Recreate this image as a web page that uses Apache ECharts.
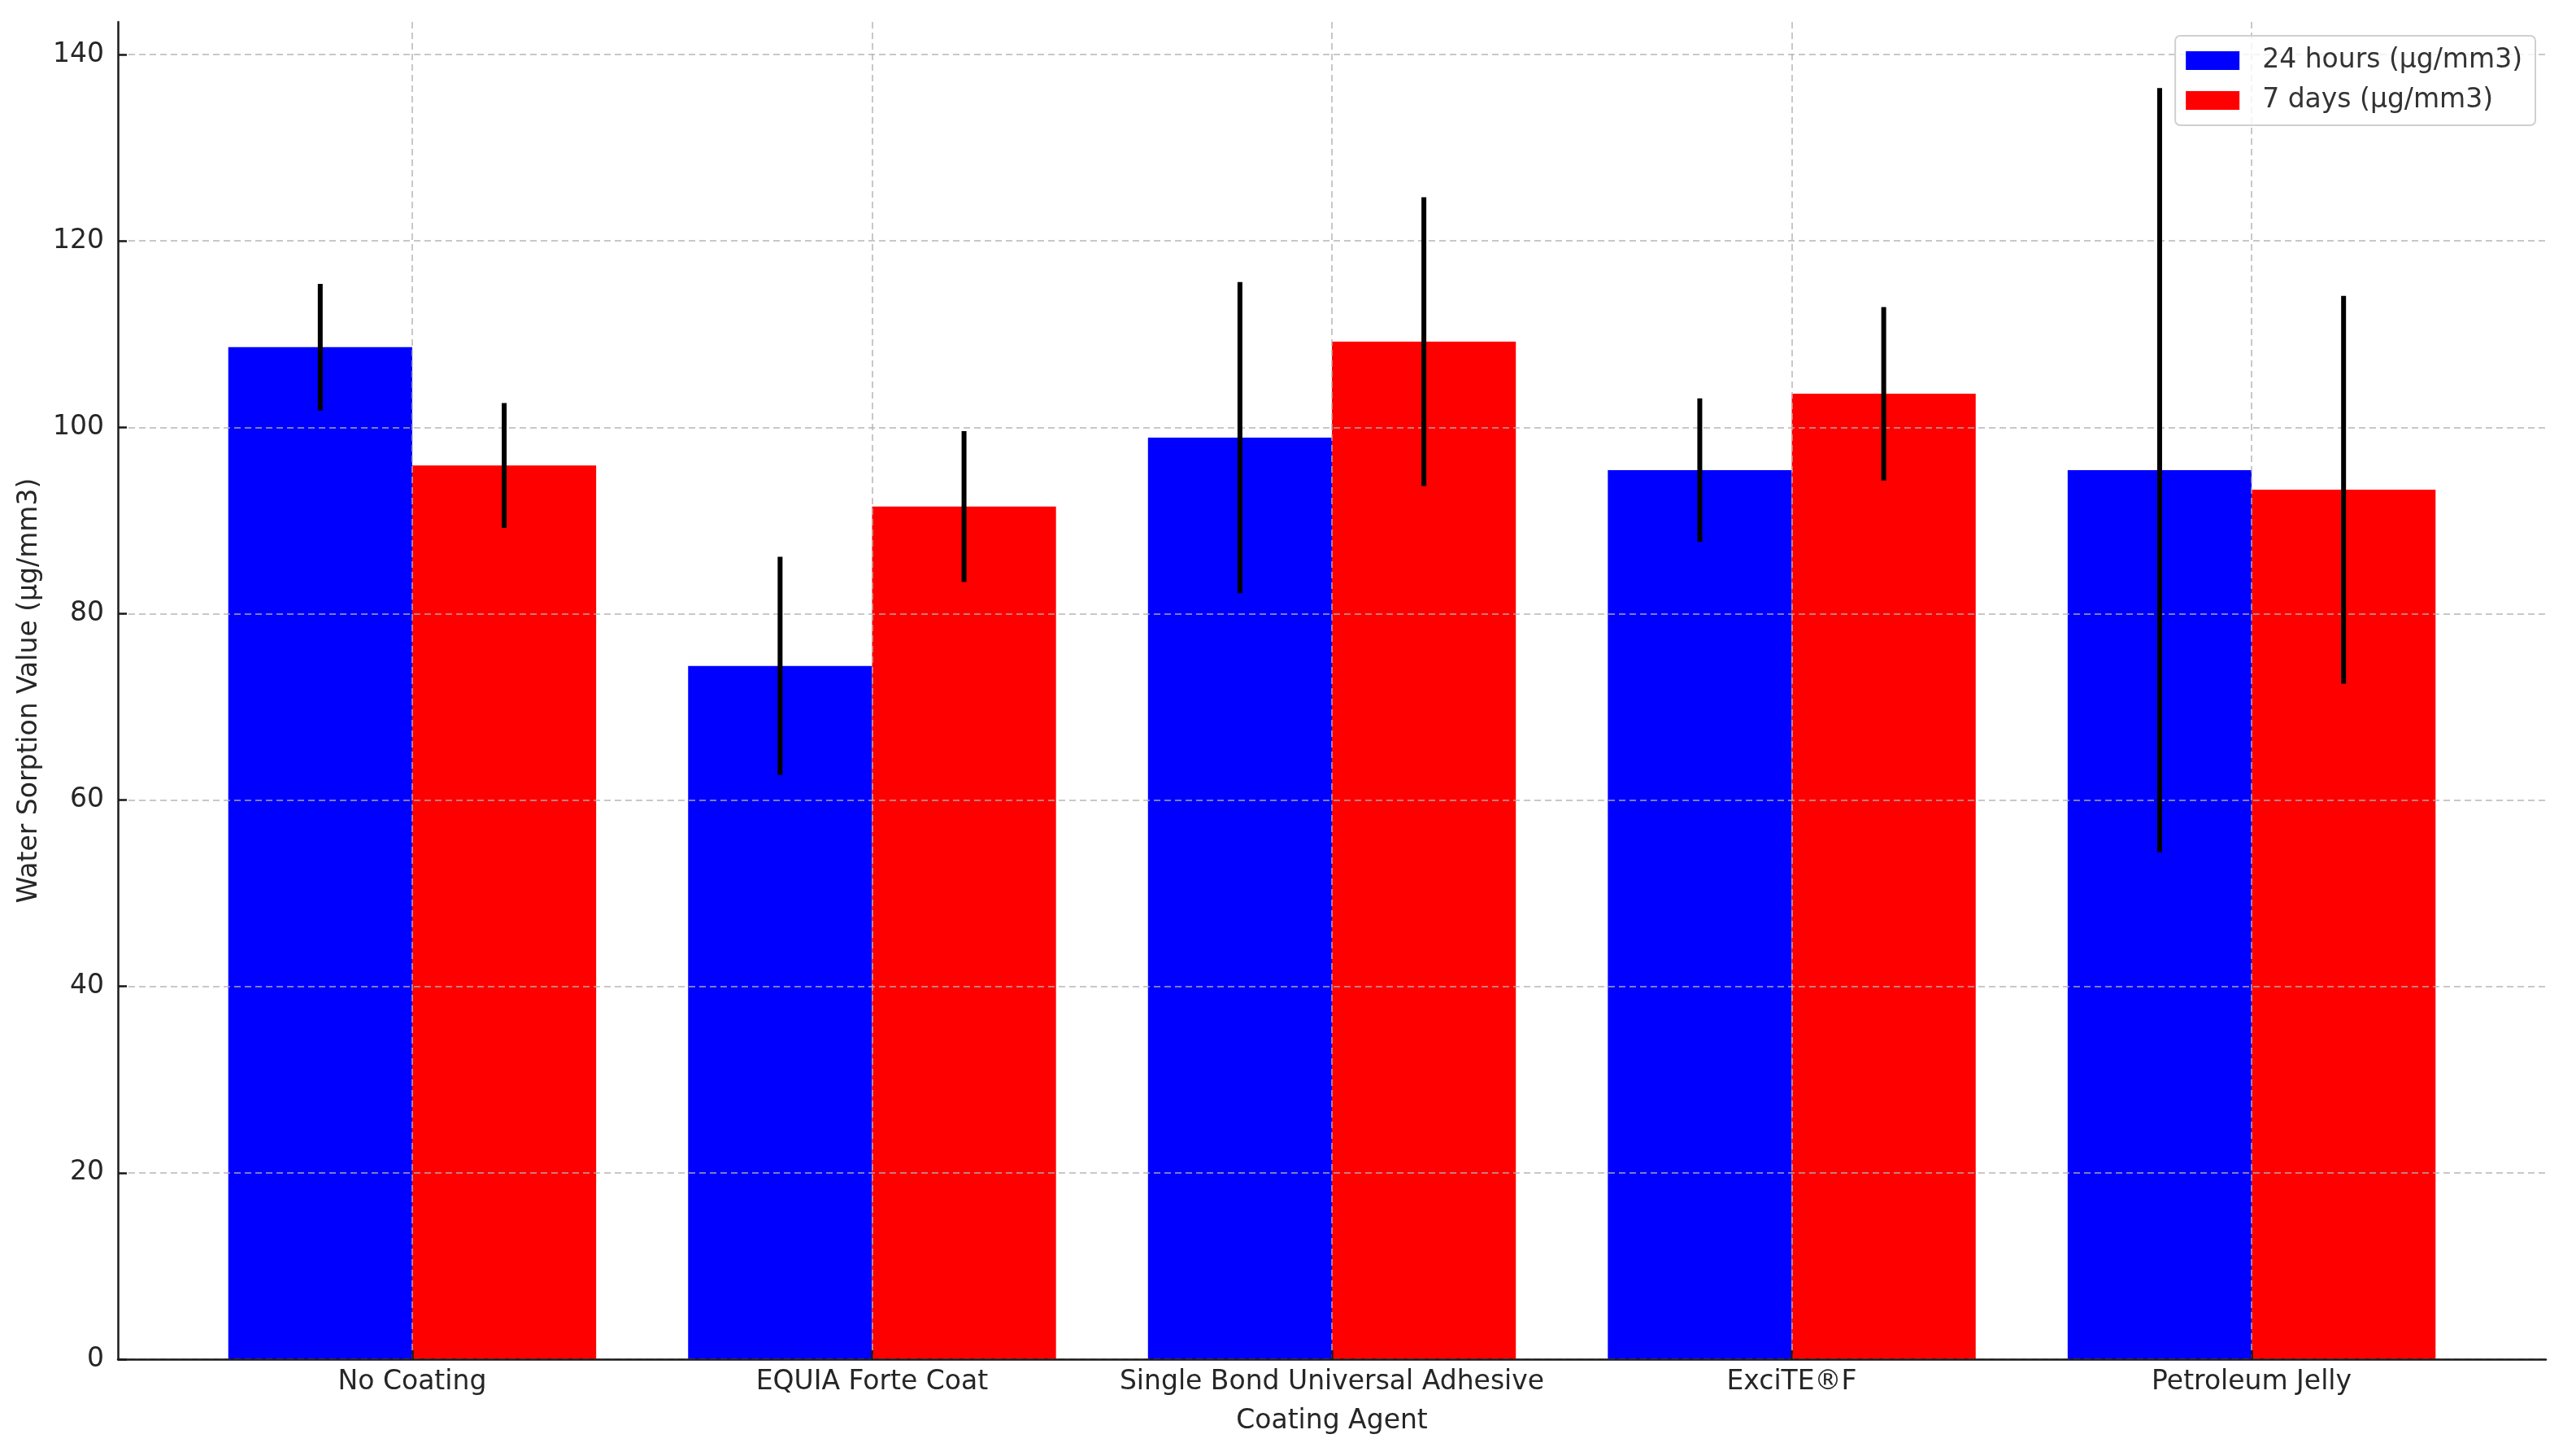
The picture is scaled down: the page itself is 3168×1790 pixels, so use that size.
<!DOCTYPE html>
<html>
<head>
<meta charset="utf-8">
<script src="https://cdn.jsdelivr.net/npm/echarts@6/dist/echarts.min.js"></script>
<style>html,body{margin:0;padding:0;background:#fff;}#c{width:3168px;height:1790px;}</style>
</head>
<body>
<div id="c"></div>
<script>
var categories = ['No Coating', 'EQUIA Forte Coat', 'Single Bond Universal Adhesive', 'ExciTE\u00aeF', 'Petroleum Jelly'];
var hours24 = [108.6, 74.4, 98.9, 95.4, 95.4];
var hours24Err = [6.8, 11.7, 16.7, 7.7, 41.0];
var days7 = [95.9, 91.5, 109.2, 103.6, 93.3];
var days7Err = [6.7, 8.1, 15.5, 9.3, 20.8];
var yTicks = [0, 20, 40, 60, 80, 100, 120, 140];
var xTicks = [0, 1, 2, 3, 4];
var seriesNames = ['24 hours (\u00b5g/mm3)', '7 days (\u00b5g/mm3)'];

var BAR_W = 0.4;
var FONT = 'DejaVu Sans';
var TXT = '#262626';

function barRender(side) {
  return function (params, api) {
    var x = api.value(0), y = api.value(1);
    var x0 = side < 0 ? x - BAR_W : x;
    var x1 = side < 0 ? x : x + BAR_W;
    var p0 = api.coord([x0, y]);
    var p1 = api.coord([x1, 0]);
    return {
      type: 'rect',
      shape: { x: p0[0], y: p0[1], width: p1[0] - p0[0], height: p1[1] - p0[1] },
      style: { fill: api.visual('color') }
    };
  };
}
function errRender(params, api) {
  var x = api.value(0), lo = api.value(1), hi = api.value(2);
  var a = api.coord([x, lo]);
  var b = api.coord([x, hi]);
  return {
    type: 'line',
    shape: { x1: a[0], y1: a[1], x2: b[0], y2: b[1] },
    style: { stroke: '#000', lineWidth: 6 }
  };
}

var barData24 = categories.map(function (c, i) { return [i, hours24[i]]; });
var barData7 = categories.map(function (c, i) { return [i, days7[i]]; });
var errData24 = categories.map(function (c, i) { return [i - BAR_W / 2, hours24[i] - hours24Err[i], hours24[i] + hours24Err[i]]; });
var errData7 = categories.map(function (c, i) { return [i + BAR_W / 2, days7[i] - days7Err[i], days7[i] + days7Err[i]]; });

var chart = echarts.init(document.getElementById('c'), null, { renderer: 'canvas' });
var gridLine = { show: true, lineStyle: { color: 'rgba(176,176,176,0.7)', width: 2, type: [8, 5] } };
chart.setOption({
  animation: false,
  backgroundColor: '#fff',
  textStyle: { fontFamily: FONT },
  grid: { left: 145, right: 37, top: 27, bottom: 119, containLabel: false },
  legend: {
    orient: 'vertical',
    right: 50,
    top: 44,
    data: seriesNames,
    icon: 'rect',
    itemWidth: 66,
    itemHeight: 23,
    itemGap: 16,
    textStyle: { fontFamily: FONT, fontSize: 33, color: '#333', lineHeight: 33, padding: [0, 0, 0, 23] },
    padding: [14, 16, 14, 13],
    backgroundColor: 'rgba(255,255,255,0.8)',
    borderColor: '#d0d0d0',
    borderWidth: 2,
    borderRadius: 6,
    z: 10
  },
  xAxis: {
    type: 'value',
    min: -0.64,
    max: 4.64,
    z: 3,
    name: 'Coating Agent',
    nameLocation: 'middle',
    nameGap: 60,
    nameTextStyle: { fontFamily: FONT, fontSize: 33, color: TXT },
    axisLine: { show: true, onZero: false, lineStyle: { color: '#1a1a1a', width: 2.5 } },
    axisTick: { show: true, inside: true, length: 11, customValues: xTicks, lineStyle: { color: '#1a1a1a', width: 2.5 } },
    axisLabel: {
      customValues: xTicks,
      margin: 12,
      fontFamily: FONT, fontSize: 33, color: TXT,
      formatter: function (v) { var k = Math.round(v); return Math.abs(v - k) < 1e-6 ? categories[k] : ''; }
    },
    splitLine: gridLine
  },
  yAxis: {
    type: 'value',
    min: 0,
    max: 143.5,
    z: 3,
    name: 'Water Sorption Value (\u00b5g/mm3)',
    nameLocation: 'middle',
    nameGap: 92,
    nameTextStyle: { fontFamily: FONT, fontSize: 33, color: TXT },
    axisLine: { show: true, onZero: false, lineStyle: { color: '#1a1a1a', width: 2.5 } },
    axisTick: { show: true, inside: true, length: 11, customValues: yTicks, lineStyle: { color: '#1a1a1a', width: 2.5 } },
    axisLabel: { customValues: yTicks, margin: 17, fontFamily: FONT, fontSize: 33, color: TXT },
    splitLine: gridLine
  },
  series: [
    { name: seriesNames[0], type: 'custom', renderItem: barRender(-1), data: barData24, itemStyle: { color: '#0000ff' }, encode: { x: 0, y: 1 }, z: 2 },
    { name: seriesNames[1], type: 'custom', renderItem: barRender(1), data: barData7, itemStyle: { color: '#ff0000' }, encode: { x: 0, y: 1 }, z: 2 },
    { name: 'err24', type: 'custom', renderItem: errRender, data: errData24, encode: { x: 0, y: [1, 2] }, z: 5 },
    { name: 'err7', type: 'custom', renderItem: errRender, data: errData7, encode: { x: 0, y: [1, 2] }, z: 5 }
  ]
});
</script>
</body>
</html>
